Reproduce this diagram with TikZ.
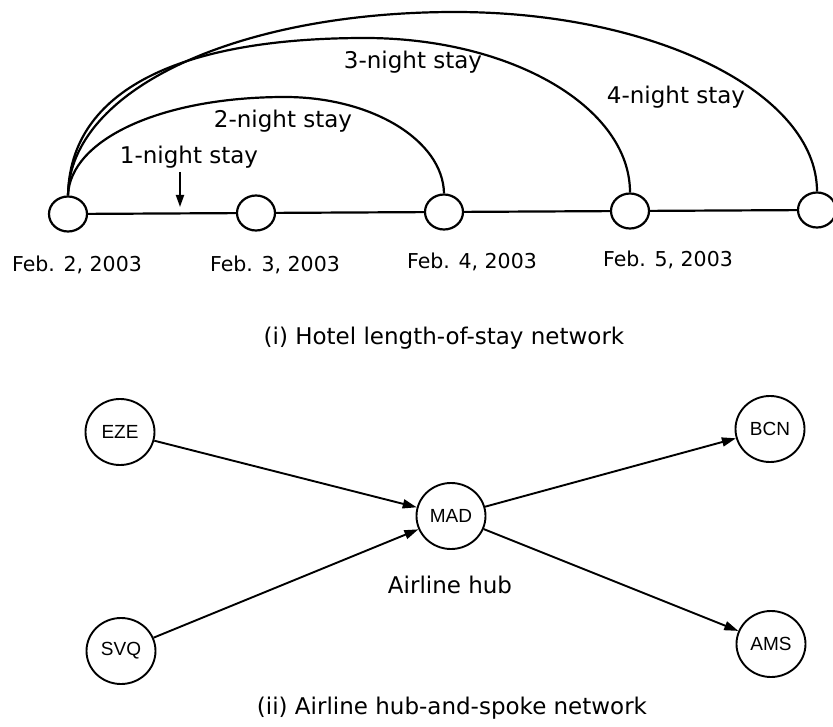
\documentclass[tikz,border=0pt]{standalone}
\usepackage{fontspec}
\setmainfont{DejaVu Sans}
\newfontfamily\apfont{Liberation Sans}
\usetikzlibrary{shapes.geometric,arrows.meta}
\begin{document}
\begin{tikzpicture}[x=1pt,y=-1pt,
  day/.style={draw,ellipse,minimum width=38pt,minimum height=35pt,inner sep=0pt,line width=2.2pt,fill=white},
  port/.style={draw,ellipse,minimum width=69pt,minimum height=66pt,inner sep=0pt,line width=1.9pt,font=\apfont\fontsize{19}{19}\selectfont},
  stay/.style={line width=2.2pt},
  lbl/.style={font=\fontsize{23}{23}\selectfont,inner sep=0pt},
  datelbl/.style={font=\fontsize{20.5}{20.5}\selectfont,inner sep=0pt},
  flight/.style={line width=1.9pt,-{Triangle[length=14pt,width=9pt]}},
  pointer/.style={line width=1.9pt,-{Triangle[length=12pt,width=8pt]}}
]
\useasboundingbox (0,0) rectangle (833,727);
% ---------- (i) hotel network ----------
\node[day] (n1) at (68,214) {};
\node[day] (n2) at (256,213) {};
\node[day] (n3) at (444,212) {};
\node[day] (n4) at (630,211) {};
\node[day] (n5) at (817,210) {};
\draw[stay] (n1) -- (n2);
\draw[stay] (n2) -- (n3);
\draw[stay] (n3) -- (n4);
\draw[stay] (n4) -- (n5);
\draw[stay] (n1.north) .. controls (70,140) and (160,97) .. (285,97)
                       .. controls (372,97) and (443,140.5) .. (n3.north);
\draw[stay] (n1.north) .. controls (70,90) and (180,38) .. (365,38)
                       .. controls (511,38) and (630,107) .. (n4.north);
\draw[stay] (n1.north) .. controls (70,88) and (240,12) .. (455,12)
                       .. controls (655,12) and (817,93) .. (n5.north);
\node[lbl] (l1) at (189,157) {1-night stay};
\node[lbl] (l2) at (283,121) {2-night stay};
\node[lbl] (l3) at (413,62) {3-night stay};
\node[lbl] (l4) at (676,97) {4-night stay};
\coordinate (p1) at (180,172);
\coordinate (p2) at (180,207);
\draw[pointer] (p1) -- (p2);
\node[datelbl] (d1) at (77,265) {Feb. 2, 2003};
\node[datelbl] (d2) at (275,265) {Feb. 3, 2003};
\node[datelbl] (d3) at (472,262) {Feb. 4, 2003};
\node[datelbl] (d4) at (668,260) {Feb. 5, 2003};
\node[lbl] (cap1) at (444,338) {(i) Hotel length-of-stay network};
% ---------- (ii) airline network ----------
\node[port] (eze) at (120,432) {EZE};
\node[port] (svq) at (121,651) {SVQ};
\node[port] (mad) at (451,516) {MAD};
\node[port] (bcn) at (770,429) {BCN};
\node[port] (ams) at (771,644) {AMS};
\draw[flight] (eze) -- (mad);
\draw[flight] (svq) -- (mad);
\draw[flight] (mad) -- (bcn);
\draw[flight] (mad) -- (ams);
\node[lbl] (hub) at (450,585) {Airline hub};
\node[lbl] (cap2) at (452,708) {(ii) Airline hub-and-spoke network};
\end{tikzpicture}
\end{document}
